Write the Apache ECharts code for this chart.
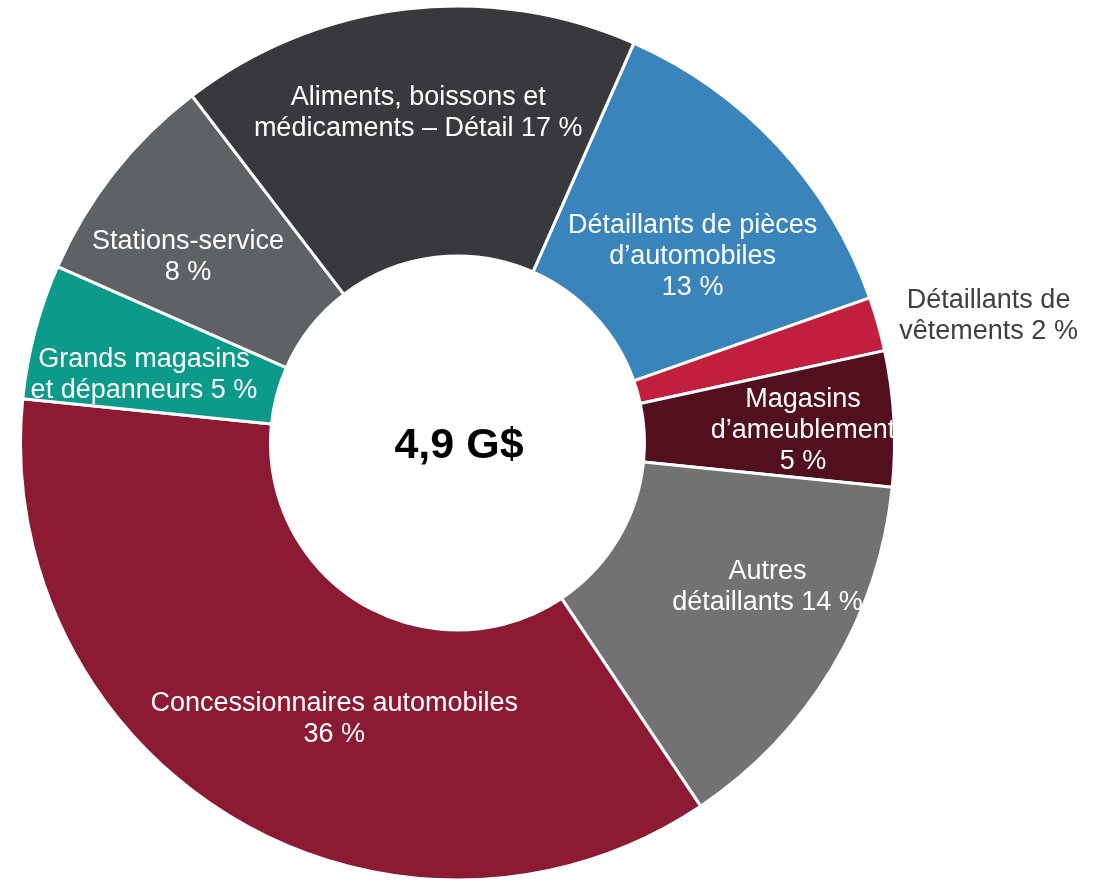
<!DOCTYPE html>
<html>
<head>
<meta charset="utf-8">
<script src="https://cdn.jsdelivr.net/npm/echarts@6/dist/echarts.min.js"></script>
<style>
html,body{margin:0;padding:0;background:#fff;}
#chart{width:1102px;height:882px;}
</style>
</head>
<body>
<div id="chart"></div>
<script>
// Data (clockwise from the blue slice)
var categories = [
  "Détaillants de pièces\nd’automobiles\n13 %",
  "Détaillants de\nvêtements 2 %",
  "Magasins\nd’ameublement\n5 %",
  "Autres\ndétaillants 14 %",
  "Concessionnaires automobiles\n36 %",
  "Grands magasins\net dépanneurs 5 %",
  "Stations-service\n8 %",
  "Aliments, boissons et\nmédicaments – Détail 17 %"
];
var values = [13, 2, 5, 14, 36, 5, 8, 17];
var centerLabel = "4,9 G$";

// Styling (kept separate from data)
var colors = ["#3a84bc", "#c21f3e", "#52101e", "#727272", "#8b1a32", "#0c9b8b", "#5f6265", "#37393c"];
var labelColors = ["#fff", "#404040", "#fff", "#fff", "#fff", "#fff", "#fff", "#fff"];
var labelOffsets = [[4, 28], [228, -41], [31, 5], [40, -18], [39, 6], [-9, 13], [-22, 9], [-2, -17]];

var FONT = '"Liberation Sans", Arial, sans-serif';
var chart = echarts.init(document.getElementById('chart'), null, {renderer: 'canvas'});
var data = values.map(function (v, i) {
  return {
    name: categories[i],
    value: v,
    itemStyle: {color: colors[i]},
    label: {color: labelColors[i]}
  };
});
chart.setOption({
  animation: false,
  backgroundColor: '#ffffff',
  series: [{
    type: 'pie',
    center: [457.5, 443],
    radius: [187, 437],
    startAngle: 66.2,
    clockwise: true,
    avoidLabelOverlap: false,
    itemStyle: {borderColor: '#ffffff', borderWidth: 3},
    label: {
      show: true,
      position: 'inside',
      formatter: '{b}',
      fontFamily: FONT,
      fontSize: 27,
      lineHeight: 31,
      align: 'center',
      verticalAlign: 'middle'
    },
    labelLine: {show: false},
    labelLayout: function (params) {
      var o = labelOffsets[params.dataIndex];
      return {dx: o[0], dy: o[1]};
    },
    data: data
  }],
  graphic: [{
    type: 'text',
    x: 459,
    y: 446,
    style: {
      text: centerLabel,
      fontFamily: FONT,
      fontSize: 43,
      fontWeight: 'bold',
      fill: '#000',
      textAlign: 'center',
      textVerticalAlign: 'middle'
    }
  }]
});
</script>
</body>
</html>
